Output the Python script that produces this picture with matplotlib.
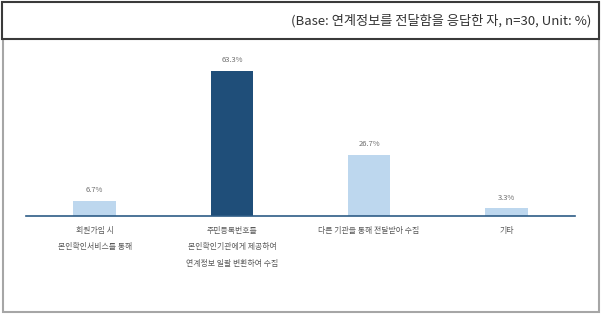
import matplotlib
matplotlib.use("Agg")
import matplotlib.pyplot as plt
from matplotlib.patches import Rectangle

plt.rcParams['font.family'] = ['Noto Sans CJK KR', 'DejaVu Sans']

# ── data ─────────────────────────────────────────────────────────────────────
categories = [
    "회원가입 시\n본인확인서비스를 통해",
    "주민등록번호를\n본인확인기관에게 제공하여\n연계정보 일괄 변환하여 수집",
    "다른 기관을 통해 전달받아 수집",
    "기타",
]
values = [6.7, 63.3, 26.7, 3.3]
value_labels = ["6.7%", "63.3%", "26.7%", "3.3%"]
bar_colors = ["#bdd7ee", "#1f4e79", "#bdd7ee", "#bdd7ee"]
title_text = "(Base: 연계정보를 전달함을 응답한 자, n=30, Unit: %)"

W, H = 602, 316
fig = plt.figure(figsize=(W / 100, H / 100), dpi=100)

# outer frame + title box (figure pixel coords)
frame = fig.add_axes([0, 0, 1, 1])
frame.set_xlim(0, W)
frame.set_ylim(H, 0)
frame.axis("off")
frame.add_patch(Rectangle((3, 3), 596, 309, fill=False, edgecolor="#a6a6a6", linewidth=1.5))
frame.add_patch(Rectangle((2, 2), 597, 37, facecolor="white", edgecolor="#3a3a3a", linewidth=1.5))
frame.text(591, 21, title_text, ha="right", va="center", fontsize=9.5, color="#333333")

# bar chart
ax = fig.add_axes([26 / W, 100 / H, 549 / W, 166 / H])
x = range(len(values))
ax.bar(x, values, width=0.31, color=bar_colors)
ax.set_xlim(-0.5, len(values) - 0.5)
ax.set_ylim(0, 72.5)
for xi, v, lab in zip(x, values, value_labels):
    ax.text(xi, v + 3, lab, ha="center", va="bottom", fontsize=5.5, color="#6f6f6f")
ax.set_xticks(list(x))
ax.set_xticklabels(categories, fontsize=5.7, color="#595959", linespacing=2.1, va="top")
ax.tick_params(axis="x", length=0, pad=7)
ax.set_yticks([])
for s in ["top", "right", "left"]:
    ax.spines[s].set_visible(False)
ax.spines["bottom"].set_color("#2e5c86")
ax.spines["bottom"].set_linewidth(1.2)

fig.savefig("out.png", dpi=100)
